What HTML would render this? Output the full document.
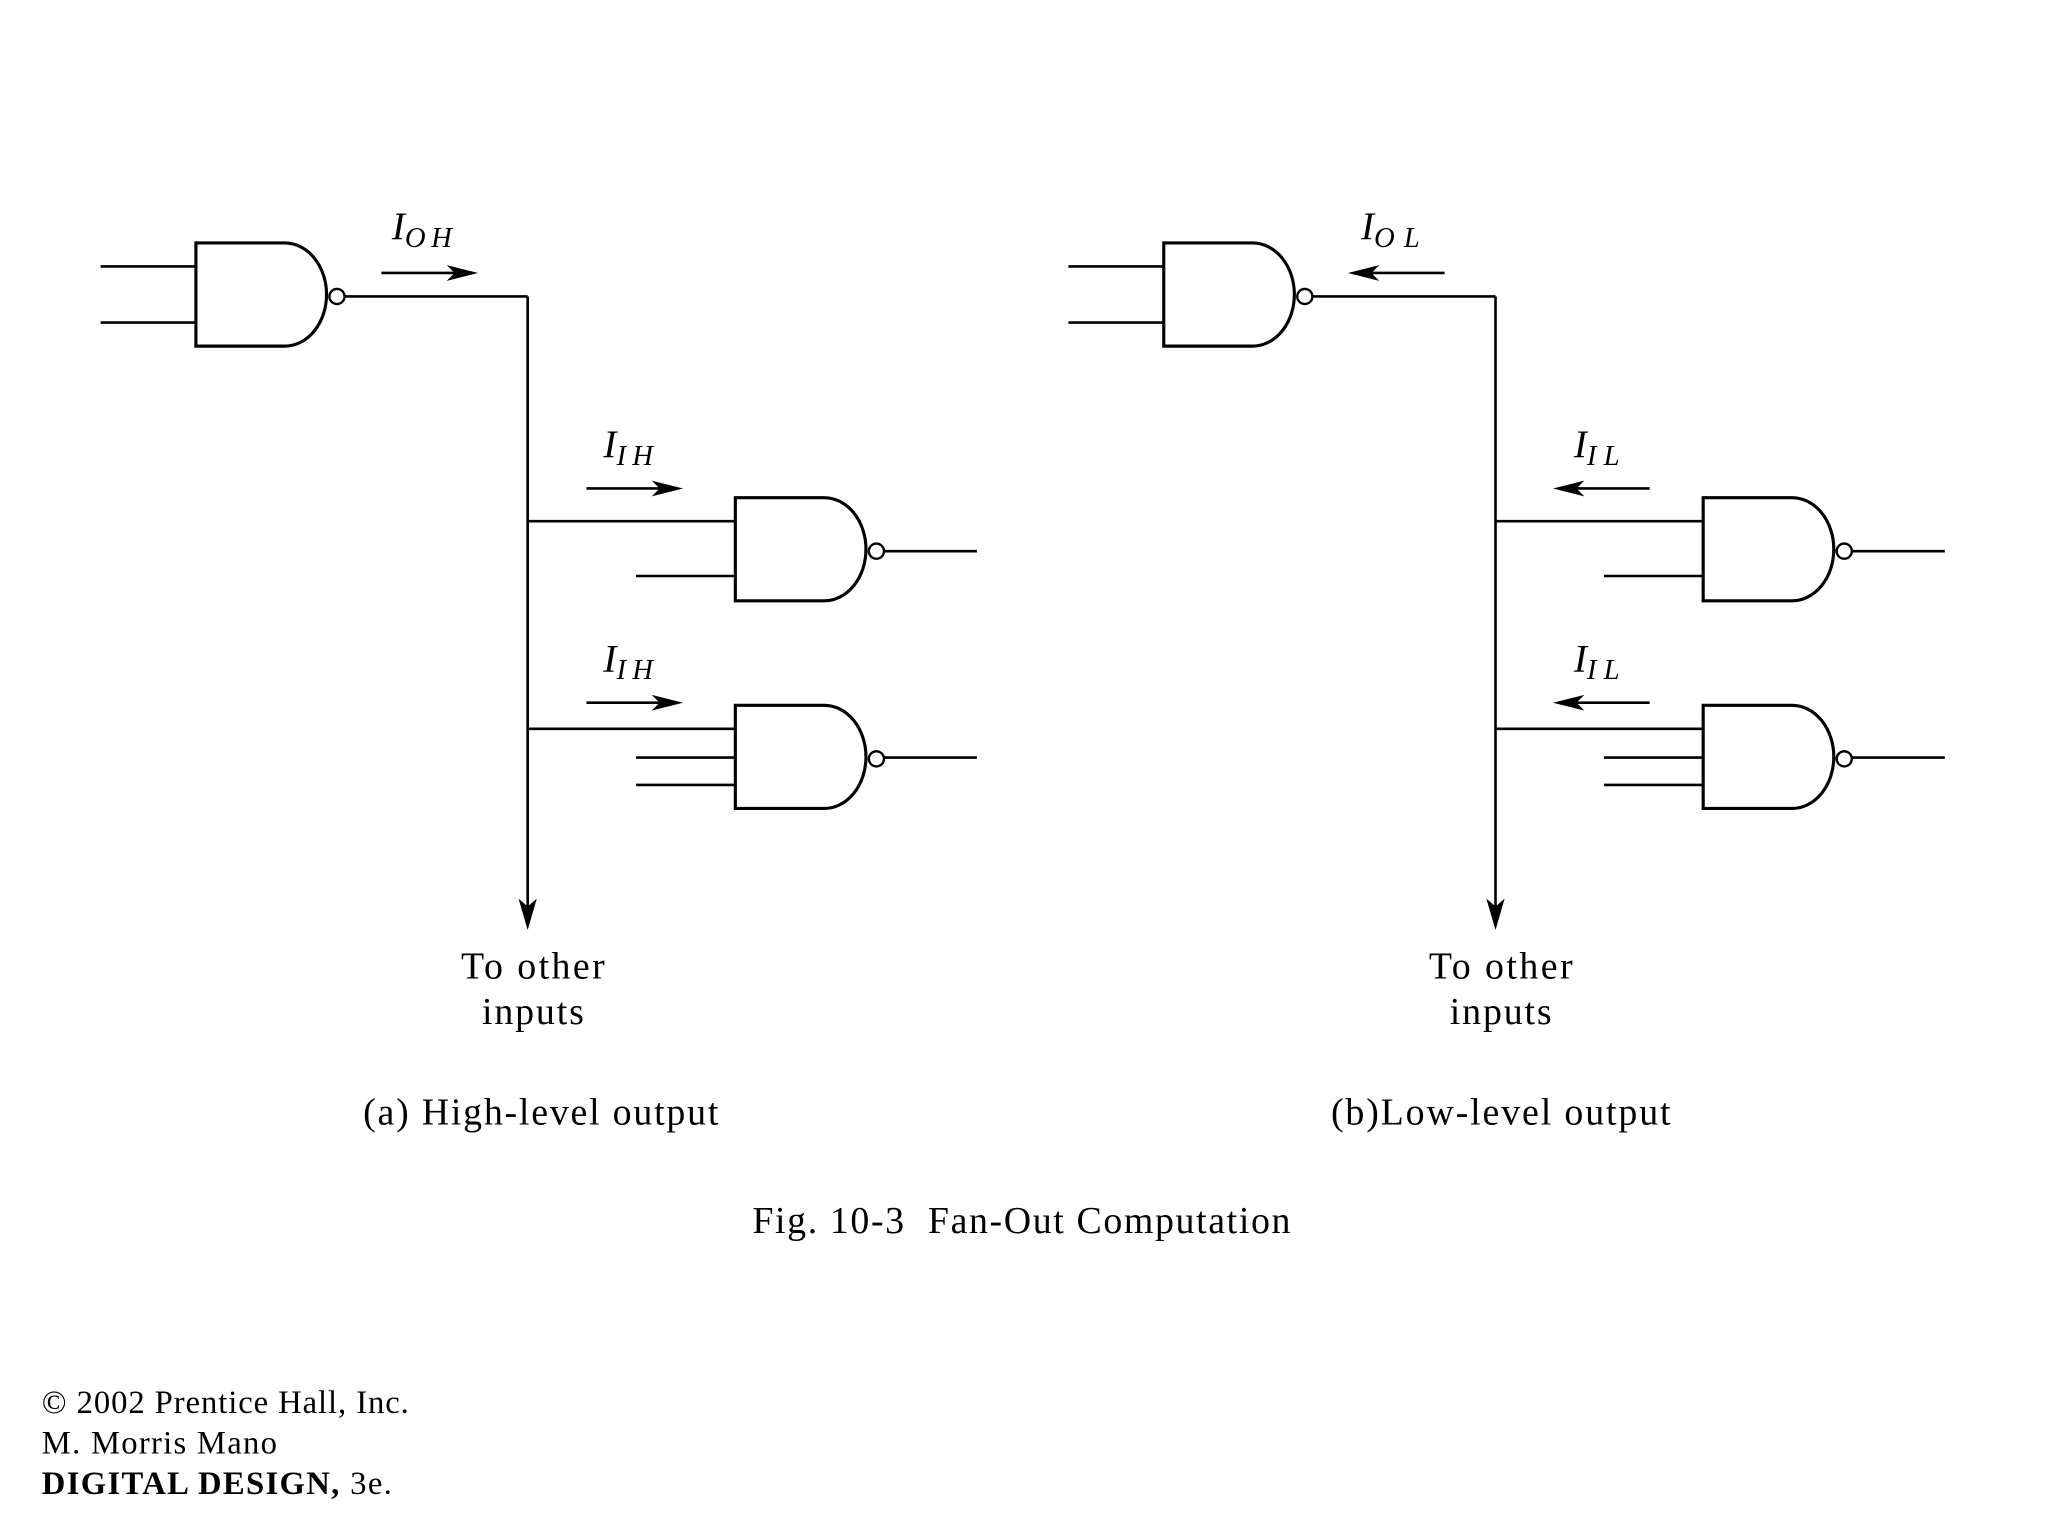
<!DOCTYPE html>
<html><head><meta charset="utf-8"><style>
html,body{margin:0;padding:0;background:#fff;width:2048px;height:1536px;overflow:hidden}
svg{display:block}
text{font-family:"Liberation Serif",serif;fill:#000}
</style></head><body>
<svg width="2048" height="1536" viewBox="0 0 1568 1176" xmlns="http://www.w3.org/2000/svg">
<defs>
<g id="gate">
<path d="M0,0 H68 A32,39.5 0 0 1 68,79 H0 Z" fill="none" stroke="#000" stroke-width="2.4"/>
<circle cx="108" cy="41" r="5.8" fill="#fff" stroke="#000" stroke-width="1.8"/>
</g>
<g id="half">
<line x1="77" y1="204" x2="150" y2="204" stroke="#000" stroke-width="2"/>
<line x1="77" y1="247" x2="150" y2="247" stroke="#000" stroke-width="2"/>
<use href="#gate" x="150" y="186"/>
<line x1="264" y1="227" x2="404" y2="227" stroke="#000" stroke-width="2"/>
<line x1="404" y1="227" x2="404" y2="700" stroke="#000" stroke-width="2"/>
<path d="M397,688 L404,712 L411,688 L404,694 Z" fill="#000"/>
<use href="#gate" x="563" y="381"/>
<line x1="404" y1="399" x2="563" y2="399" stroke="#000" stroke-width="2"/>
<line x1="487" y1="441" x2="563" y2="441" stroke="#000" stroke-width="2"/>
<line x1="677" y1="422" x2="748" y2="422" stroke="#000" stroke-width="2"/>
<use href="#gate" x="563" y="540"/>
<line x1="404" y1="558" x2="563" y2="558" stroke="#000" stroke-width="2"/>
<line x1="487" y1="580" x2="563" y2="580" stroke="#000" stroke-width="2"/>
<line x1="487" y1="601" x2="563" y2="601" stroke="#000" stroke-width="2"/>
<line x1="677" y1="580" x2="748" y2="580" stroke="#000" stroke-width="2"/>
<text x="353" y="749" font-size="29" textLength="110" lengthAdjust="spacing">To other</text>
<text x="369" y="784" font-size="29" textLength="78" lengthAdjust="spacing">inputs</text>
</g>
</defs>
<use href="#half"/>
<use href="#half" x="741"/>
<g stroke="#000" stroke-width="2" fill="none">
<line x1="292" y1="209" x2="356" y2="209"/>
<line x1="449" y1="374" x2="513" y2="374"/>
<line x1="449" y1="538" x2="513" y2="538"/>
<line x1="1042" y1="209" x2="1106" y2="209"/>
<line x1="1199" y1="374" x2="1263" y2="374"/>
<line x1="1199" y1="538" x2="1263" y2="538"/>
</g>
<g fill="#000">
<path d="M366,209 L342,203 L348,209 L342,215 Z"/>
<path d="M523,374 L499,368 L505,374 L499,380 Z"/>
<path d="M523,538 L499,532 L505,538 L499,544 Z"/>
<path d="M1032,209 L1056,203 L1050,209 L1056,215 Z"/>
<path d="M1189,374 L1213,368 L1207,374 L1213,380 Z"/>
<path d="M1189,538 L1213,532 L1207,538 L1213,544 Z"/>
</g>
<g font-style="italic">
<text x="300" y="183" font-size="30">I<tspan font-size="22" dy="6" textLength="36" lengthAdjust="spacing">OH</tspan></text>
<text x="462" y="350" font-size="30">I<tspan font-size="22" dy="6" textLength="28" lengthAdjust="spacing">IH</tspan></text>
<text x="462" y="514" font-size="30">I<tspan font-size="22" dy="6" textLength="28" lengthAdjust="spacing">IH</tspan></text>
<text x="1042" y="183" font-size="30">I<tspan font-size="22" dy="6" textLength="35" lengthAdjust="spacing">OL</tspan></text>
<text x="1205" y="350" font-size="30">I<tspan font-size="22" dy="6" textLength="25" lengthAdjust="spacing">IL</tspan></text>
<text x="1205" y="514" font-size="30">I<tspan font-size="22" dy="6" textLength="25" lengthAdjust="spacing">IL</tspan></text>
</g>
<text x="278" y="861" font-size="29" textLength="272" lengthAdjust="spacing">(a) High-level output</text>
<text x="1019" y="861" font-size="29" textLength="260" lengthAdjust="spacing">(b)Low-level output</text>
<text x="576" y="944" font-size="29" textLength="412" lengthAdjust="spacing" xml:space="preserve">Fig. 10-3  Fan-Out Computation</text>
<text x="32" y="1082" font-size="25" textLength="281" lengthAdjust="spacing">© 2002 Prentice Hall, Inc.</text>
<text x="32" y="1113" font-size="25" textLength="180" lengthAdjust="spacing">M. Morris Mano</text>
<text x="32" y="1144" font-size="25" textLength="268" lengthAdjust="spacing"><tspan font-weight="bold">DIGITAL DESIGN,</tspan> 3e.</text>
</svg>
</body></html>
